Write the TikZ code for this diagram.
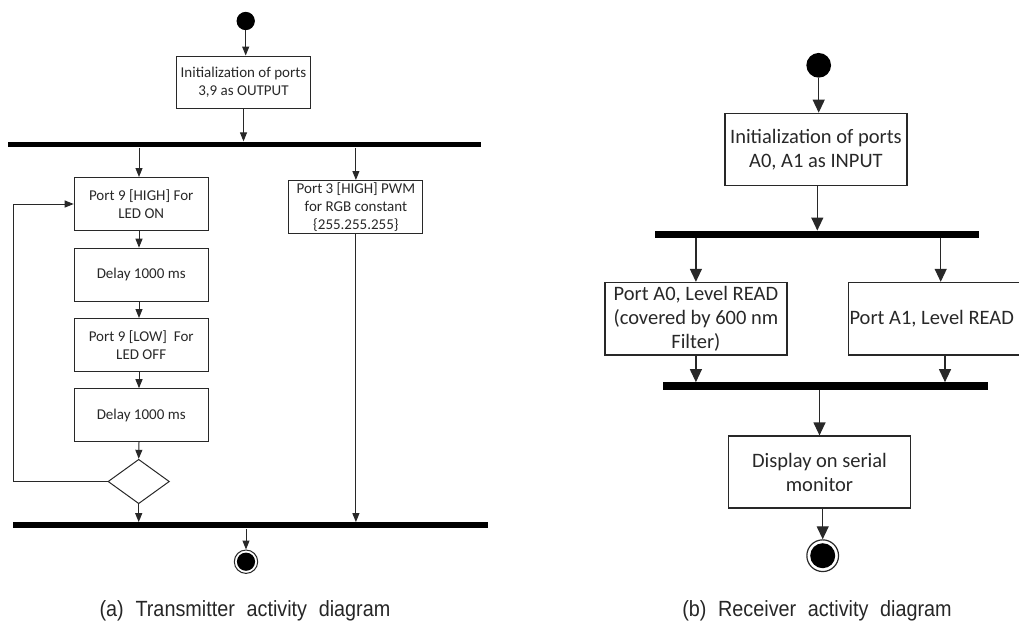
\documentclass[tikz,border=0pt]{standalone}
\usepackage{fontspec}
\setmainfont{Carlito}
\newfontfamily\capfont{Liberation Sans}
\usetikzlibrary{arrows.meta,shapes.geometric}
\definecolor{ink}{RGB}{40,40,40}
\begin{document}
\begin{tikzpicture}[x=1pt,y=-1pt,
  lbox/.style={draw=ink, line width=1pt, text=ink, align=center, inner sep=0pt,
    minimum width=134pt, minimum height=53pt, font=\fontsize{15}{18}\selectfont},
  rbox/.style={draw=ink, line width=1.2pt, text=ink, align=center, inner sep=0pt,
    minimum width=182pt, minimum height=72.5pt, font=\fontsize{20.5}{24}\selectfont},
  bar/.style={fill=black, draw=none, inner sep=0pt},
  lflow/.style={draw=ink, line width=1pt, -{Triangle[width=7pt,length=9pt]}},
  rflow/.style={draw=ink, line width=1.2pt, -{Triangle[width=12pt,length=13pt]}},
  initial/.style={circle, fill=black, inner sep=0pt},
  finalring/.style={circle, draw=ink, fill=white, inner sep=0pt},
  finaldot/.style={circle, fill=black, inner sep=0pt},
  caption/.style={font=\capfont\fontsize{22}{24}\selectfont, text=black!85, inner sep=0pt}
]
\useasboundingbox (0,0) rectangle (1019,624);
\clip (0,0) rectangle (1019,624);

% ---------- (a) transmitter ----------
\coordinate (lc) at (139,0);
\coordinate (loopx) at (13.3,0);
\node[initial, minimum size=18.3pt] (start) at (245.7,21) {};
\node[lbox, minimum width=133.6pt, minimum height=52.7pt] (init) at (243.5,82.4) {Initialization of ports\\3,9 as OUTPUT};
\node[bar, minimum width=473pt, minimum height=5.8pt] (bar1) at (244.5,144.5) {};
\node[lbox] (b1) at (141.2,204) {Port 9 [HIGH] For\\LED ON};
\node[lbox] (b2) at (141.2,274.7) {Delay 1000 ms};
\node[lbox] (b3) at (141.2,345) {Port 9 [LOW]~~For\\LED OFF};
\node[lbox] (b4) at (141.2,415.2) {Delay 1000 ms};
\node[diamond, draw=ink, line width=1pt, inner sep=0pt, minimum width=61.4pt, minimum height=44.4pt] (dia) at (138.7,481.5) {};
\node[lbox] (pwm) at (355.9,207) {Port 3 [HIGH] PWM\\for RGB constant\\\{255.255.255\}};
\node[bar, minimum width=475pt, minimum height=6pt] (bar2) at (250.8,525.3) {};
\node[finalring, line width=1pt, minimum size=23.4pt] (end) at (246,561.7) {};
\node[finaldot, minimum size=18.2pt] (enddot) at (end) {};

\draw[lflow] (start.south) -- (start.south |- init.north);
\draw[lflow] (init.south) -- (init.south |- bar1.north);
\draw[lflow] (bar1.south -| lc) -- (b1.north -| lc);
\draw[lflow] (b1.south -| lc) -- (b2.north -| lc);
\draw[lflow] (b2.south -| lc) -- (b3.north -| lc);
\draw[lflow] (b3.south -| lc) -- (b4.north -| lc);
\draw[lflow] (b4.south -| lc) -- (dia.north);
\draw[lflow] (dia.south) -- (dia.south |- bar2.north);
\draw[lflow] (dia.west) -- (dia.west -| loopx) |- (b1.west);
\draw[lflow] (bar1.south -| pwm) -- (pwm.north);
\draw[lflow] (pwm.south) -- (pwm.south |- bar2.north);
\draw[lflow] (bar2.south -| end) -- (end.north);

% ---------- (b) receiver ----------
\node[initial, minimum size=24.7pt] (rstart) at (818.7,65.3) {};
\node[rbox] (rinit) at (815.9,149.5) {Initialization of ports\\A0, A1 as INPUT};
\node[bar, minimum width=324pt, minimum height=7.3pt] (rbar1) at (817.3,234.4) {};
\node[rbox] (ra0) at (695.9,318.7) {Port A0, Level READ\\(covered by 600 nm\\Filter)};
\node[rbox, minimum width=184pt] (ra1) at (940.7,318.7) {\hspace*{-18pt}Port A1, Level READ};
\node[bar, minimum width=324.4pt, minimum height=7.7pt] (rbar2) at (825.5,386.2) {};
\node[rbox, minimum height=72pt] (rdisp) at (819.5,472) {Display on serial\\monitor};
\node[finalring, line width=1.2pt, minimum size=31.7pt] (rend) at (822.7,555.7) {};
\node[finaldot, minimum size=25pt] (renddot) at (rend) {};

\coordinate (ra1x) at (945,0);
\draw[rflow] (rstart.south) -- (rstart.south |- rinit.north);
\draw[rflow] (rinit.south -| rbar1) -- (rbar1.north);
\draw[rflow] (rbar1.south -| ra0) -- (ra0.north);
\draw[rflow] (rbar1.south -| ra1) -- (ra1.north);
\draw[rflow] (ra0.south) -- (ra0.south |- rbar2.north);
\draw[rflow] (ra1.south -| ra1x) -- (rbar2.north -| ra1x);
\draw[rflow] (rbar2.south -| rdisp) -- (rdisp.north);
\draw[rflow] (rdisp.south -| rend) -- (rend.north);

% ---------- captions ----------
\node[caption] (capa) at (245,611) {\scalebox{0.9}[1]{(a)\hspace{13pt}Transmitter\hspace{13pt}activity\hspace{13pt}diagram}};
\node[caption] (capb) at (817,611) {\scalebox{0.9}[1]{(b)\hspace{13pt}Receiver\hspace{13pt}activity\hspace{13pt}diagram}};
\end{tikzpicture}
\end{document}
